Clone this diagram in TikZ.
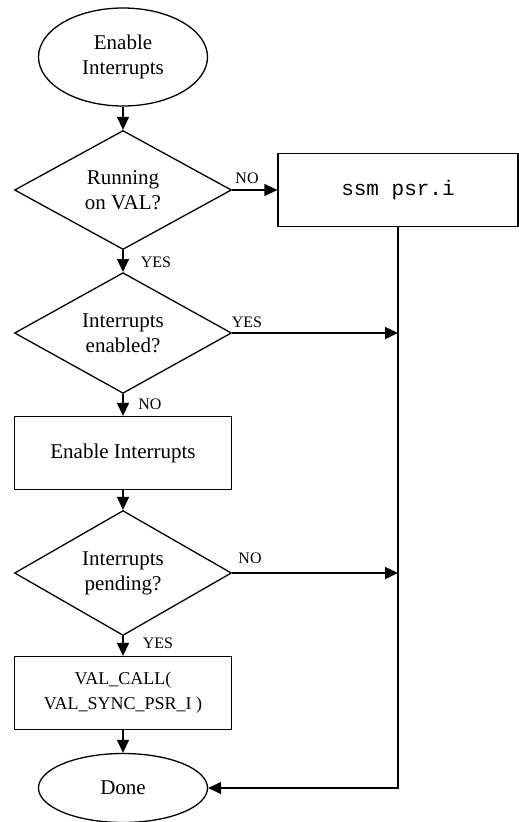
\documentclass[tikz,border=0pt]{standalone}
\usepackage{fontspec}
\setmainfont{Liberation Serif}
\setmonofont{Liberation Mono}
\usetikzlibrary{shapes.geometric,arrows.meta}

\tikzset{
  term/.style={draw,ellipse,line width=1.3pt,minimum width=169pt,minimum height=98pt,inner sep=0pt,align=center,font=\fontsize{21}{25}\selectfont},
  decision/.style={draw,diamond,line width=1.3pt,minimum width=217pt,minimum height=119pt,inner sep=0pt,align=center,font=\fontsize{21}{25}\selectfont},
  process/.style={draw,rectangle,line width=1.3pt,minimum width=217pt,minimum height=73pt,inner sep=0pt,align=center,font=\fontsize{21}{25}\selectfont},
  flow/.style={line width=1.3pt,-{Triangle[length=13pt,width=12pt]}},
  answer/.style={inner sep=0pt,font=\fontsize{16}{18}\selectfont},
}

\begin{document}
\begin{tikzpicture}[x=1pt,y=-1pt]
\useasboundingbox (0,0) rectangle (519,822);
% Left column
\node[term] (start) at (123,57) {Enable\\Interrupts};
\node[decision] (onval) at (123,190) {Running\\on VAL?};
\node[decision] (enabled) at (123,333) {Interrupts\\enabled?};
\node[process] (enable) at (123,453) {Enable Interrupts};
\node[decision] (pending) at (123,573) {Interrupts\\pending?};
\node[process,font=\fontsize{18}{25}\selectfont] (valcall) at (123,693) {VAL\_CALL(\\VAL\_SYNC\_PSR\_I )};
\node[term,minimum height=69pt] (done) at (123,788) {Done};
% Right column
\node[process,minimum width=240pt,font=\fontsize{21}{25}\ttfamily] (ssm) at (398,190) {ssm psr.i};
\coordinate (join1) at (398,333);
\coordinate (join2) at (398,573);
\coordinate (corner) at (398,788);
% Connectors
\draw[flow] (start) -- (onval);
\draw[flow] (onval) -- (enabled);
\draw[flow] (enabled) -- (enable);
\draw[flow] (enable) -- (pending);
\draw[flow] (pending) -- (valcall);
\draw[flow] (valcall) -- (done);
\draw[flow] (onval.east) -- (ssm.west);
\draw[flow] (enabled.east) -- (join1);
\draw[flow] (pending.east) -- (join2);
\draw[flow] (ssm.south) -- (corner) -- (done.east);
% Labels
\node[answer] (no1) at (247,178) {NO};
\node[answer] (yes1) at (156,262) {YES};
\node[answer] (yes2) at (247,322) {YES};
\node[answer] (no2) at (150,404) {NO};
\node[answer] (no3) at (250,558) {NO};
\node[answer] (yes3) at (158,643) {YES};
\end{tikzpicture}
\end{document}
